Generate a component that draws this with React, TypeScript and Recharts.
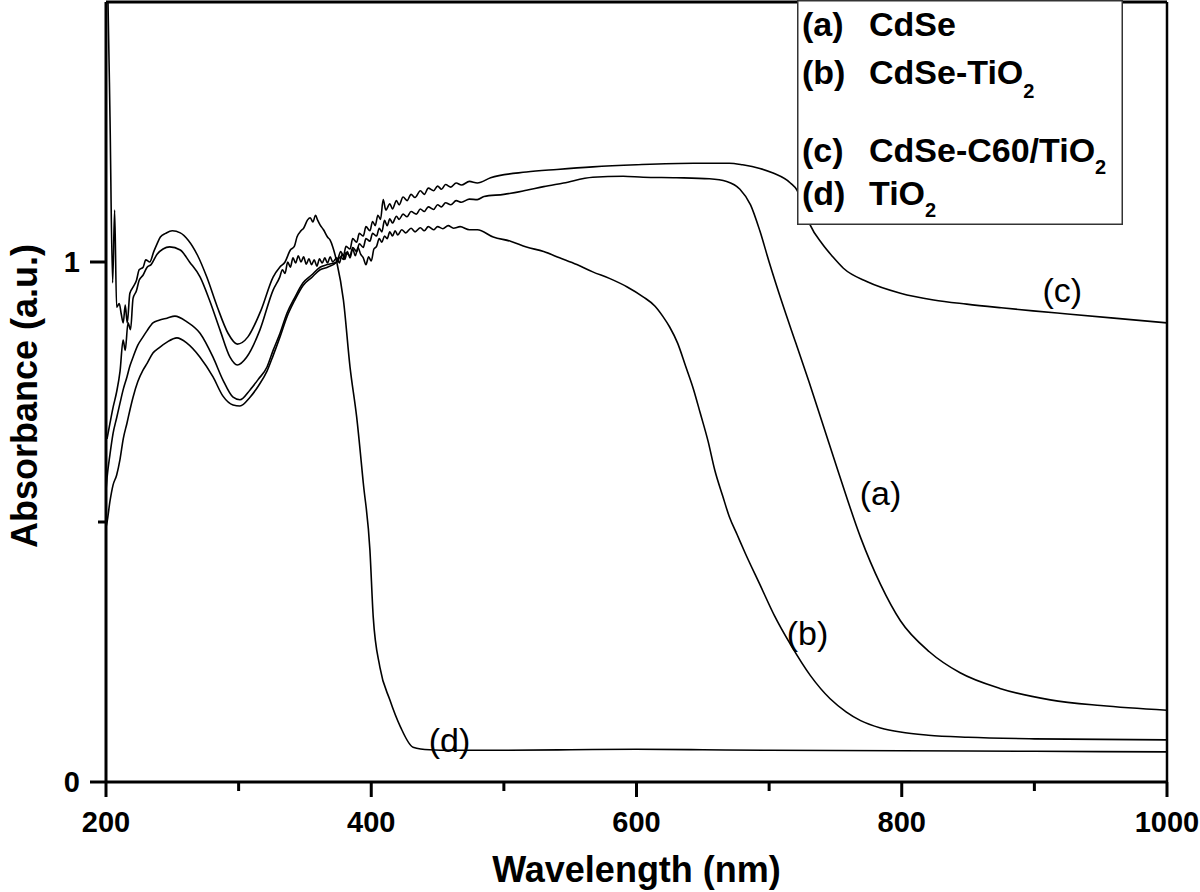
import React from 'react';
import { LineChart, Line, XAxis, YAxis, ReferenceLine, ReferenceDot, Legend, Label } from 'recharts';

const FONT = '"Liberation Sans", Arial, Helvetica, sans-serif';

// wavelength (nm), absorbance (a.u.)
const cdsePoints: [number, number][] = [
  [200, 0.49], [200.8, 0.5], [203, 0.54], [205.3, 0.571], [208, 0.59], [210.6, 0.621], [213, 0.66], [215.8, 0.69],
  [218, 0.715], [220.4, 0.74], [224, 0.77], [227.9, 0.792], [231, 0.805], [235.4, 0.825], [240, 0.835], [246, 0.846],
  [253.5, 0.854], [261, 0.844], [270.9, 0.817], [280.7, 0.779], [288.2, 0.742], [295.8, 0.725], [301, 0.723],
  [308.6, 0.74], [315, 0.762], [321.4, 0.79], [326, 0.82], [331.2, 0.856], [336.5, 0.895], [342, 0.925], [348.6, 0.955],
  [355, 0.97], [361.4, 0.985], [367, 0.99], [374, 1.0], [377, 1.01], [379, 1.005], [381, 1.018], [384, 1.012],
  [386, 1.028], [389, 1.02], [391, 1.035], [394, 1.028], [396, 1.045], [399, 1.04], [401, 1.055], [404, 1.05],
  [406, 1.065], [408, 1.058], [410, 1.08], [412, 1.07], [414, 1.083], [416, 1.075], [419, 1.088], [421, 1.082],
  [424, 1.092], [427, 1.087], [430, 1.097], [434, 1.092], [437, 1.102], [440, 1.097], [443, 1.106], [447, 1.101],
  [450, 1.11], [453, 1.106], [456, 1.114], [460, 1.11], [464, 1.118], [468, 1.115], [474, 1.121], [480, 1.12],
  [485, 1.126], [500, 1.13], [517, 1.138], [530, 1.145], [545, 1.152], [567, 1.163], [590, 1.165], [605, 1.163],
  [630, 1.162], [655, 1.16], [668, 1.155], [678, 1.14], [686, 1.11], [693, 1.06], [700, 1.0], [710, 0.92],
  [720, 0.845], [730, 0.77], [740, 0.692], [753, 0.59], [769, 0.47], [784, 0.38], [799, 0.31], [821, 0.25],
  [844, 0.21], [874, 0.18], [912, 0.158], [950, 0.147], [1000, 0.138],
];

const cdseTio2Points: [number, number][] = [
  [200.8, 0.66], [203, 0.69], [205.3, 0.72], [208, 0.75], [210.6, 0.79], [212.9, 0.85], [214.5, 0.83], [216.6, 0.883],
  [218.5, 0.87], [220.4, 0.93], [223, 0.945], [225, 0.965], [228, 0.975], [231, 0.99], [234, 0.995], [238.5, 1.015],
  [243, 1.025], [248, 1.029], [256, 1.023], [263, 1.0], [271, 0.971], [278, 0.927], [286, 0.869], [293.5, 0.817],
  [299, 0.802], [306, 0.817], [316, 0.869], [326, 0.946], [331, 0.971], [333, 0.985], [335, 0.978], [337, 1.0],
  [339, 0.99], [341, 1.008], [343, 0.998], [345, 1.012], [347, 1.0], [349, 1.01], [351, 0.996], [353, 1.006],
  [355, 0.995], [357, 1.004], [359, 0.992], [361, 1.006], [363, 0.998], [365, 1.008], [367, 0.998], [369, 1.01],
  [371, 1.0], [374, 1.008], [376, 0.998], [378, 1.015], [380, 1.005], [382, 1.02], [384, 1.008], [386, 1.025],
  [388, 1.012], [390, 1.028], [392, 1.015], [394, 1.008], [396, 0.995], [398, 1.01], [400, 1.002], [402, 1.025],
  [404, 1.03], [406, 1.045], [408, 1.038], [410, 1.05], [412, 1.045], [414, 1.058], [416, 1.05], [418, 1.06],
  [420, 1.052], [423, 1.062], [426, 1.056], [430, 1.065], [433, 1.058], [437, 1.066], [440, 1.06], [443, 1.068],
  [447, 1.062], [450, 1.068], [454, 1.064], [458, 1.07], [462, 1.065], [467, 1.068], [474, 1.062], [480, 1.062],
  [492, 1.048], [505, 1.04], [517, 1.029], [530, 1.02], [542, 1.008], [555, 0.995], [567, 0.981], [580, 0.968],
  [593, 0.952], [605, 0.933], [614, 0.915], [620, 0.895], [625, 0.875], [631, 0.844], [637, 0.8], [643, 0.755],
  [648, 0.71], [654, 0.655], [659, 0.6], [665, 0.55], [670, 0.51], [676, 0.475], [682, 0.44], [693, 0.38],
  [704, 0.32], [716, 0.265], [731, 0.205], [746, 0.16], [758, 0.135], [769, 0.118], [784, 0.104], [799, 0.096],
  [820, 0.09], [850, 0.086], [900, 0.083], [950, 0.082], [1000, 0.081],
];

const cdseC60Points: [number, number][] = [
  [200, 0.56], [200.8, 0.585], [203, 0.63], [205.3, 0.67], [208, 0.7], [210.6, 0.729], [213, 0.755], [215.8, 0.779],
  [218, 0.8], [220.4, 0.817], [224, 0.84], [227.9, 0.856], [231, 0.868], [235.4, 0.883], [240, 0.888], [246, 0.892],
  [252, 0.896], [261, 0.885], [270.9, 0.863], [280.7, 0.817], [288.2, 0.773], [295.8, 0.74], [301, 0.735],
  [308.6, 0.754], [315, 0.775], [321.4, 0.798], [326, 0.83], [331.2, 0.863], [336.5, 0.902], [342, 0.93],
  [348.6, 0.96], [355, 0.975], [361.4, 0.99], [367, 0.995], [374, 1.0], [377, 1.02], [379, 1.012], [381, 1.03],
  [384, 1.025], [386, 1.045], [389, 1.038], [391, 1.055], [394, 1.05], [396, 1.068], [399, 1.06], [401, 1.078],
  [403, 1.07], [405, 1.09], [407, 1.082], [409, 1.12], [411, 1.1], [414, 1.112], [416, 1.102], [419, 1.118],
  [421, 1.11], [424, 1.125], [427, 1.118], [430, 1.13], [433, 1.124], [437, 1.137], [440, 1.13], [443, 1.142],
  [447, 1.137], [450, 1.146], [453, 1.14], [456, 1.149], [460, 1.144], [464, 1.152], [468, 1.148], [474, 1.155],
  [480, 1.152], [490, 1.162], [517, 1.173], [540, 1.178], [567, 1.183], [600, 1.187], [643, 1.19], [670, 1.19],
  [680, 1.187], [693, 1.18], [703, 1.171], [716, 1.152], [721, 1.138], [726, 1.105], [731, 1.071], [740, 1.035],
  [748, 1.01], [756, 0.988], [774, 0.962], [799, 0.94], [824, 0.927], [849, 0.919], [875, 0.912], [899, 0.906],
  [925, 0.9], [960, 0.892], [1000, 0.883],
];

const tio2Points: [number, number][] = [
  [200, 1.6], [201.5, 1.5], [203, 1.28], [205, 0.96], [206.5, 1.1], [208, 0.913], [210, 0.92], [211.5, 0.9],
  [213, 0.883], [214.5, 0.917], [216, 0.883], [218, 0.94], [220.5, 0.952], [223, 0.965], [225, 0.985], [228, 0.99],
  [230, 1.004], [233, 1.0], [236, 1.02], [238.5, 1.035], [241, 1.048], [245, 1.055], [250, 1.06], [256, 1.056],
  [262, 1.042], [269, 1.013], [276, 0.971], [284, 0.913], [292, 0.863], [299, 0.842], [307, 0.856], [317, 0.908],
  [326, 0.971], [331, 0.99], [335, 1.0], [339, 1.023], [342, 1.03], [344, 1.048], [347, 1.06], [349, 1.065],
  [352, 1.081], [354, 1.085], [356, 1.077], [358, 1.09], [359.5, 1.081], [361.5, 1.071], [364, 1.062], [367, 1.048],
  [369, 1.042], [371, 1.029], [374, 1.0], [379, 0.927], [384, 0.798], [389, 0.702], [394, 0.575], [399, 0.446],
  [401.5, 0.317], [406.5, 0.221], [414, 0.158], [422, 0.106], [431.5, 0.067], [444, 0.062], [460, 0.061],
  [500, 0.061], [550, 0.062], [600, 0.063], [650, 0.062], [700, 0.061], [800, 0.06], [900, 0.059], [1000, 0.058],
];

const xTicks = [200, 300, 400, 500, 600, 700, 800, 900, 1000];
const xLabelled = [200, 400, 600, 800, 1000];
const yTicks = [0, 0.5, 1];
const yLabelled = [0, 1];

const toRows = (pts: [number, number][]) => pts.map(([nm, abs]) => ({ nm, abs }));

const XTick = (props: any) => {
  const { x, y, payload } = props;
  const major = xLabelled.includes(payload.value);
  return (
    <g>
      <line x1={x} x2={x} y1={y} y2={y + (major ? 15 : 9)} stroke="#000" strokeWidth={3} />
      {major && (
        <text x={x} y={y + 50} textAnchor="middle" fontFamily={FONT} fontWeight="bold" fontSize={29} fill="#000">
          {payload.value}
        </text>
      )}
    </g>
  );
};

const YTick = (props: any) => {
  const { x, y, payload } = props;
  const major = yLabelled.includes(payload.value);
  return (
    <g>
      <line x1={x - (major ? 16 : 8)} x2={x} y1={y} y2={y} stroke="#000" strokeWidth={3} />
      {major && (
        <text x={x - 26} y={y + 10} textAnchor="end" fontFamily={FONT} fontWeight="bold" fontSize={29} fill="#000">
          {payload.value}
        </text>
      )}
    </g>
  );
};

const legendRows = [
  { tag: '(a)', name: 'CdSe', sub: '', y: 36, subDy: 0 },
  { tag: '(b)', name: 'CdSe-TiO', sub: '2', y: 84, subDy: 14 },
  { tag: '(c)', name: 'CdSe-C60/TiO', sub: '2', y: 162, subDy: 12 },
  { tag: '(d)', name: 'TiO', sub: '2', y: 205, subDy: 12 },
];

const LegendBox = () => (
  <svg width={326} height={225} style={{ display: 'block' }}>
    <rect x={0.75} y={0.75} width={324.5} height={223.5} fill="#fff" stroke="#333" strokeWidth={1.5} />
    {legendRows.map((r) => (
      <g key={r.tag} fontFamily={FONT} fontWeight="bold" fill="#000">
        <text x={5} y={r.y} fontSize={34}>{r.tag}</text>
        <text x={72} y={r.y} fontSize={34}>
          {r.name}
          {r.sub && <tspan dy={r.subDy} fontSize={20}>{r.sub}</tspan>}
        </text>
      </g>
    ))}
  </svg>
);

const curveLabels = [
  { text: '(a)', nm: 784, abs: 0.556 },
  { text: '(b)', nm: 729, abs: 0.287 },
  { text: '(c)', nm: 921, abs: 0.946 },
  { text: '(d)', nm: 459, abs: 0.081 },
];

export default function App() {
  return (
    <div style={{ position: 'absolute', left: 0, top: 0, width: 1200, height: 892, background: '#fff' }}>
      <LineChart width={1200} height={892} margin={{ top: 2, right: 33, bottom: 0, left: 0 }}>
        <XAxis
          type="number"
          dataKey="nm"
          domain={[200, 1000]}
          ticks={xTicks}
          interval={0}
          allowDataOverflow
          height={110}
          tickLine={false}
          tickSize={0}
          tickMargin={0}
          tick={<XTick />}
          axisLine={{ stroke: '#000', strokeWidth: 3 }}
        >
          <Label
            content={(p: any) => (
              <text
                x={p.viewBox.x + p.viewBox.width / 2}
                y={p.viewBox.y + 100}
                textAnchor="middle"
                fontFamily={FONT}
                fontWeight="bold"
                fontSize={36}
                fill="#000"
              >
                Wavelength (nm)
              </text>
            )}
          />
        </XAxis>
        <YAxis
          type="number"
          domain={[0, 1.5]}
          ticks={yTicks}
          interval={0}
          allowDataOverflow
          width={106}
          tickLine={false}
          tickSize={0}
          tickMargin={0}
          tick={<YTick />}
          axisLine={{ stroke: '#000', strokeWidth: 3 }}
        >
          <Label
            content={(p: any) => (
              <text
                transform={`translate(${p.viewBox.x + 37}, ${p.viewBox.y + p.viewBox.height / 2 + 4}) rotate(-90)`}
                textAnchor="middle"
                fontFamily={FONT}
                fontWeight="bold"
                fontSize={36}
                fill="#000"
              >
                Absorbance (a.u.)
              </text>
            )}
          />
        </YAxis>
        <ReferenceLine y={1.5} stroke="#000" strokeWidth={3} />
        <ReferenceLine x={1000} stroke="#000" strokeWidth={2.5} />
        <Line data={toRows(cdsePoints)} dataKey="abs" name="CdSe" type="monotone" stroke="#000" strokeWidth={1.6} dot={false} isAnimationActive={false} />
        <Line data={toRows(cdseTio2Points)} dataKey="abs" name="CdSe-TiO2" type="monotone" stroke="#000" strokeWidth={1.6} dot={false} isAnimationActive={false} />
        <Line data={toRows(cdseC60Points)} dataKey="abs" name="CdSe-C60/TiO2" type="monotone" stroke="#000" strokeWidth={1.6} dot={false} isAnimationActive={false} />
        <Line data={toRows(tio2Points)} dataKey="abs" name="TiO2" type="monotone" stroke="#000" strokeWidth={1.6} dot={false} isAnimationActive={false} />
        {curveLabels.map((c) => (
          <ReferenceDot
            key={c.text}
            x={c.nm}
            y={c.abs}
            r={0}
            fill="none"
            stroke="none"
            label={{ value: c.text, position: 'center', fontSize: 34, fill: '#000', fontFamily: FONT }}
          />
        ))}
        <Legend
          layout="vertical"
          align="center"
          verticalAlign="middle"
          wrapperStyle={{ left: 797, top: 0, width: 326, height: 225 }}
          content={() => <LegendBox />}
        />
      </LineChart>
    </div>
  );
}
